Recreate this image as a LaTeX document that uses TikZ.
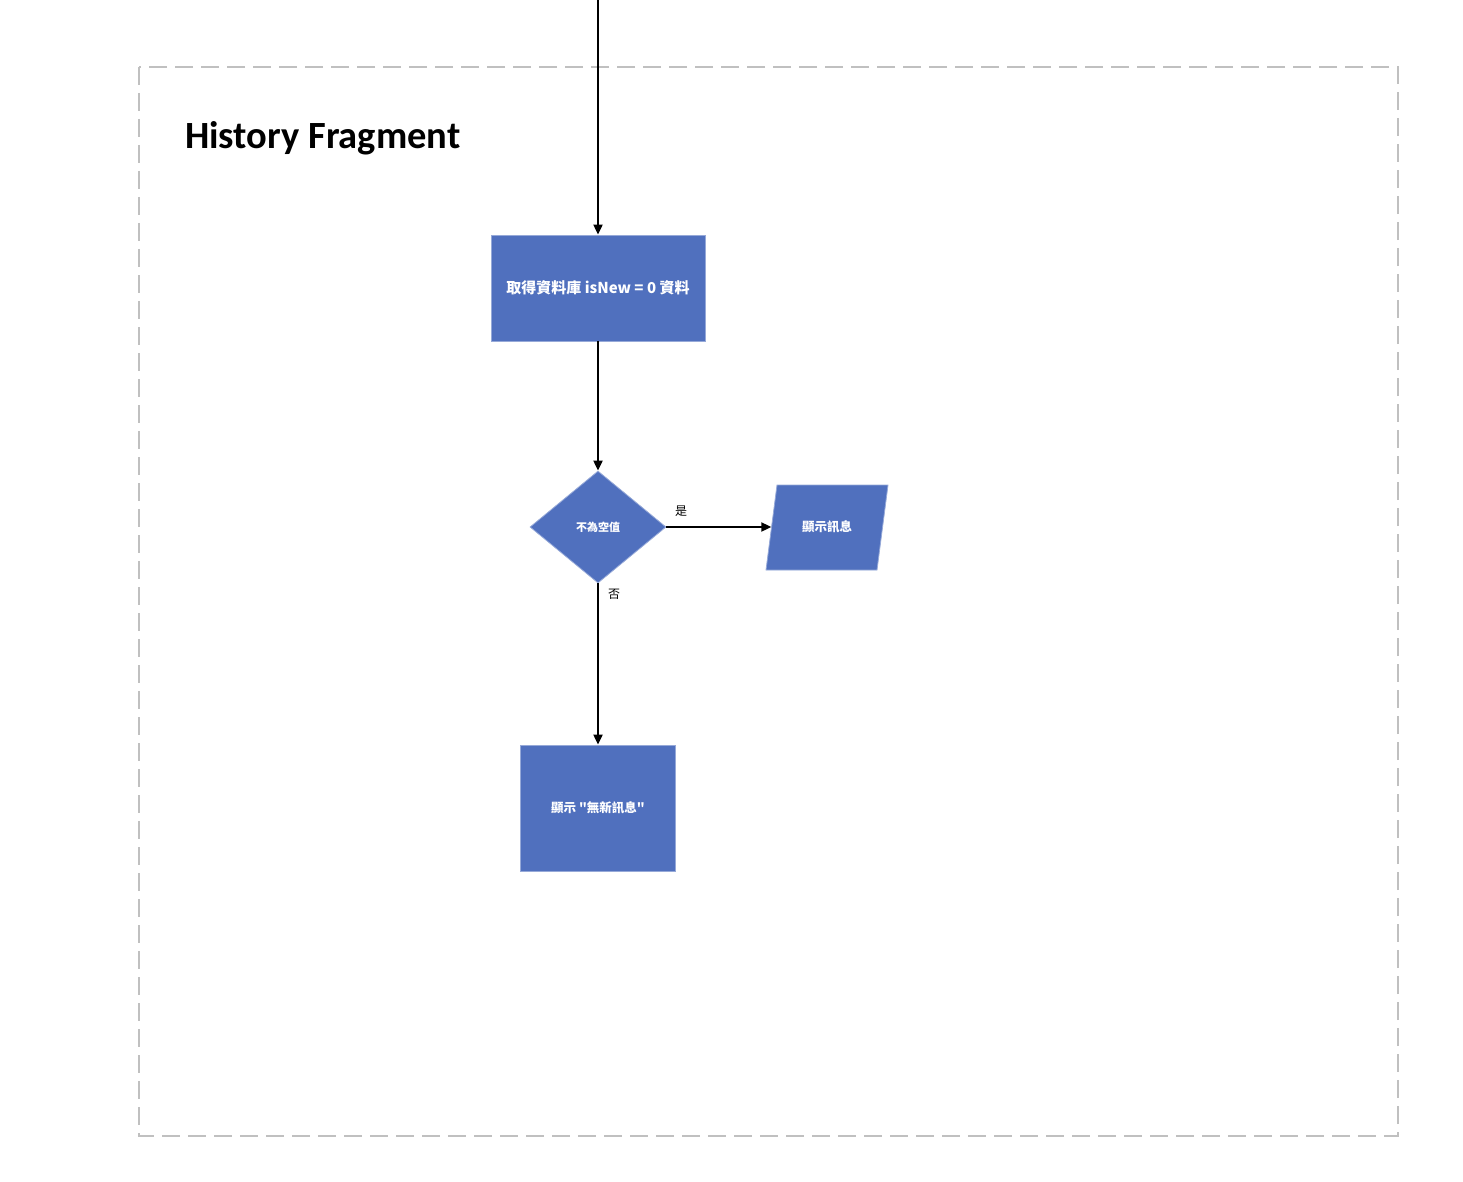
\documentclass[tikz,border=0pt]{standalone}
\usepackage{fontspec}
\setmainfont{Carlito}
\newfontfamily\cjk{Noto Sans CJK TC}
\usetikzlibrary{arrows.meta,shapes.geometric}
\definecolor{boxblue}{HTML}{5070BE}
\definecolor{frameg}{HTML}{C0C0C0}
\tikzset{
  blk/.style={fill=boxblue,draw=boxblue!60!white,line width=0.8pt,text=white,font=\cjk\bfseries},
  conn/.style={line width=2pt,-{Triangle[length=10pt,width=9pt]}},
  lbl/.style={font=\cjk\fontsize{12}{14}\selectfont,text=black,inner sep=0pt}
}
\begin{document}
\begin{tikzpicture}[x=1pt,y=-1pt]
\useasboundingbox (0,0) rectangle (1463,1182);
% frame
\draw[frameg,line width=2pt,dash pattern=on 18pt off 8pt] (139,67) rectangle (1398,1136);
\node[anchor=base west,inner sep=0pt,font=\bfseries\fontsize{38.5}{44}\selectfont] (title) at (185,149) {History Fragment};
% nodes
\coordinate (top) at (598,0);
\node[blk,rectangle,minimum width=214pt,minimum height=106pt,inner sep=0pt,font=\cjk\bfseries\fontsize{15}{18}\selectfont] (get) at (598,288) {取得資料庫 isNew = 0 資料};
\node[blk,diamond,minimum width=136pt,minimum height=112pt,inner sep=0pt,font=\cjk\bfseries\fontsize{11}{13}\selectfont] (cond) at (598,527) {不為空值};
% parallelogram
\fill[boxblue,draw=boxblue!60!white,line width=0.8pt] (777,485) -- (888,485) -- (877,570) -- (766,570) -- cycle;
\node[rectangle,inner sep=0pt,minimum width=111pt,minimum height=85pt,text=white,font=\cjk\bfseries\fontsize{12.5}{15}\selectfont] (msg) at (827,527) {顯示訊息};
\node[blk,rectangle,minimum width=155pt,minimum height=126pt,inner sep=0pt,font=\cjk\bfseries\fontsize{12.5}{15}\selectfont] (none) at (598,808) {顯示 "無新訊息"};
% connectors
\draw[conn] (top) -- (get.north);
\draw[conn] (get.south) -- (cond.north);
\draw[conn] (cond.east) -- (msg.west) node[lbl,pos=0.14,above=10pt] (yes) {是};
\draw[conn] (cond.south) -- (none.north) node[lbl,pos=0.07,right=9pt] (no) {否};
\end{tikzpicture}
\end{document}
